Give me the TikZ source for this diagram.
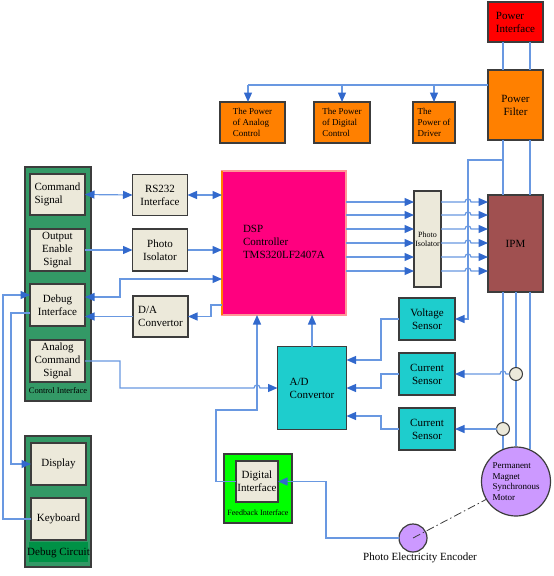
\documentclass[tikz,border=0pt]{standalone}
\usepackage{fontspec}
\setmainfont{Liberation Serif}
\usetikzlibrary{arrows.meta}
\definecolor{ln}{RGB}{105,152,225}
\definecolor{tipc}{RGB}{50,105,205}
\definecolor{bd}{RGB}{60,60,60}
\definecolor{beige}{RGB}{236,233,218}
\definecolor{pgreen}{RGB}{51,153,102}
\definecolor{dgreen}{RGB}{0,145,70}
\definecolor{bgreen}{RGB}{0,255,0}
\definecolor{orng}{RGB}{255,128,0}
\definecolor{rd}{RGB}{255,0,0}
\definecolor{ipmc}{RGB}{160,80,80}
\definecolor{mag}{RGB}{255,0,127}
\definecolor{pinkb}{RGB}{255,150,150}
\definecolor{cyn}{RGB}{30,205,205}
\definecolor{vio}{RGB}{204,153,255}
\newcommand\fmain{\fontsize{11}{13}\selectfont}
\newcommand\fsmall{\fontsize{9}{10.7}\selectfont}
\newcommand\ftiny{\fontsize{8}{9}\selectfont}
\begin{document}
\begin{tikzpicture}[x=1pt,y=-1pt,
  every node/.style={inner sep=0pt,outer sep=0pt},
  blk/.style={draw=bd,line width=1.2pt,align=center,font=\fmain},
  box/.style={blk,fill=beige},
  pbox/.style={blk,fill=orng,font=\fsmall,align=left},
  sbox/.style={blk,fill=cyn},
  panel/.style={draw=bd,line width=1.2pt},
  conn/.style={draw=ln,line width=1.2pt},
  arr/.style={conn,-{Triangle[length=9.5pt,width=8pt,color=tipc]}},
  darr/.style={conn,{Triangle[length=9.5pt,width=8pt,color=tipc]}-{Triangle[length=9.5pt,width=8pt,color=tipc]}},
  lbl/.style={font=\ftiny}
]
\useasboundingbox (0,0) rectangle (554,576);
% panels
\node[panel,fill=pgreen,minimum width=66pt,minimum height=234pt] (ctrl) at (58,284) {};
\node[lbl,font=\fontsize{8.5}{10}\selectfont] (ctrll) at (58,391) {Control Interface};
\node[panel,fill=pgreen,minimum width=66pt,minimum height=131pt] (dbgc) at (58,501.5) {};
\node[fill=dgreen,minimum width=59pt,minimum height=20pt] (dbgs) at (58.5,552) {};
\node[font=\fmain] (dbgl) at (58.5,553) {Debug Circuit};
\node[panel,fill=bgreen,minimum width=68pt,minimum height=69pt] (fb) at (258,488.5) {};
\node[lbl] (fbl) at (258,513) {Feedback Interface};
% power
\node[blk,fill=rd,minimum width=55pt,minimum height=40pt,align=left] (pwrif) at (515.5,22) {Power\\Interface};
\node[blk,fill=orng,minimum width=55pt,minimum height=70pt] (pwrfl) at (515.5,105) {Power\\Filter};
\node[pbox,minimum width=65pt,minimum height=41pt] (pac) at (252.5,122.5) {The Power\\of Analog\\Control};
\node[pbox,minimum width=56pt,minimum height=41pt] (pdc) at (342,122.5) {The Power\\of Digital\\Control};
\node[pbox,minimum width=42pt,minimum height=41pt] (pdr) at (434,122.5) {The\\Power of\\Driver};
% main
\node[blk,fill=ipmc,minimum width=55pt,minimum height=97pt] (ipm) at (515.5,243.5) {IPM};
\node[box,minimum width=27pt,minimum height=96pt,font=\ftiny] (piso) at (427.5,239) {Photo\\Isolator};
\node[draw=pinkb,line width=1.5pt,fill=mag,minimum width=124pt,minimum height=144pt] (dsp) at (284,243) {};
\draw[orng,line width=1.5pt] (dsp.north west) -- (dsp.south west);
\node[font=\fmain,align=left,anchor=west] (dspl) at (243,242) {DSP\\Controller\\TMS320LF2407A};
% control interface
\node[box,minimum width=55pt,minimum height=41pt,align=left] (cmd) at (57.5,194.5) {Command\\Signal};
\node[box,minimum width=55pt,minimum height=42pt] (oes) at (57.5,250) {Output\\Enable\\Signal};
\node[box,minimum width=55pt,minimum height=42pt] (dbg) at (57.5,305) {Debug\\Interface};
\node[box,minimum width=55pt,minimum height=42pt] (acs) at (57.5,361) {Analog\\Command\\Signal};
\node[box,minimum width=55pt,minimum height=41pt] (rs) at (160,195) {RS232\\Interface};
\node[box,minimum width=55pt,minimum height=42pt] (piso2) at (160,250) {Photo\\Isolator};
\node[box,minimum width=55pt,minimum height=41pt,align=left] (da) at (160.5,316.5) {D/A\\Convertor};
% debug circuit
\node[box,minimum width=55pt,minimum height=42pt] (disp) at (58.5,464) {Display};
\node[box,minimum width=55pt,minimum height=42pt] (kb) at (58.5,519) {Keyboard};
% feedback
\node[box,minimum width=42pt,minimum height=41pt] (di) at (257,481.5) {Digital\\Interface};
% sensors
\node[sbox,minimum width=69pt,minimum height=83pt,align=left] (ad) at (312,388) {A/D\\Convertor};
\node[sbox,minimum width=56pt,minimum height=42pt] (vs) at (427,319) {Voltage\\Sensor};
\node[sbox,minimum width=56pt,minimum height=42pt] (cs1) at (427,374) {Current\\Sensor};
\node[sbox,minimum width=56pt,minimum height=42pt] (cs2) at (427,429) {Current\\Sensor};
% motor lines
\draw[conn] (503,292) -- (503,449);
\draw[conn] (516,292) -- (516,446);
\draw[conn] (530,292) -- (530,449);
\node[circle,draw=bd,line width=1.2pt,fill=vio,minimum size=69pt,font=\fsmall,align=left] (pmsm) at (516,481.5) {Permanent\\Magnet\\Synchronous\\Motor};
\node[circle,draw=bd,line width=1pt,fill=beige,minimum size=13pt] (sc1) at (516,374) {};
\node[circle,draw=bd,line width=1pt,fill=beige,minimum size=13pt] (sc2) at (503,429) {};
\node[circle,draw=bd,line width=1.2pt,fill=vio,minimum size=28pt] (enc) at (413,538) {};
\node[font=\fmain] (encl) at (420,557.5) {Photo Electricity Encoder};
\draw[bd,line width=0.8pt,dash pattern=on 8pt off 3pt on 1.5pt off 3pt] (enc.center) -- (pmsm.211);
% power connections
\draw[conn] ([xshift=-12.5pt]pwrif.south) -- ([xshift=-12.5pt]pwrfl.north);
\draw[conn] ([xshift=14.5pt]pwrif.south) -- ([xshift=14.5pt]pwrfl.north);
\draw[conn] ([xshift=-12.5pt]pwrfl.south) -- ([xshift=-12.5pt]ipm.north);
\draw[conn] ([xshift=14.5pt]pwrfl.south) -- ([xshift=14.5pt]ipm.north);
\draw[conn] (pwrfl.west |- 0,85) -- (248,85);
\draw[arr] (248,85) -- (pac.north -| 248,0);
\draw[arr] (342,85) -- (pdc.north);
\draw[arr] (434,85) -- (pdr.north);
\coordinate (tap) at (503,160);
\draw[arr] (tap) -- (468,160) -- (468,319) -- (vs.east);
% DSP to isolator to IPM
\foreach \yy in {202,215,229,243,257,271}{
  \draw[arr] (dsp.east |- 0,\yy) -- (piso.west |- 0,\yy);
  \draw[arr] (piso.east |- 0,\yy) -- (465,\yy) .. controls (465,{\yy-4}) and (471,{\yy-4}) .. (471,\yy) -- (ipm.west |- 0,\yy);
}
% control interface connections
\draw[darr] (cmd.east) -- (rs.west);
\draw[darr] (rs.east) -- (rs.east -| dsp.west);
\draw[arr] (oes.east) -- (piso2.west);
\draw[arr] (piso2.east) -- (piso2.east -| dsp.west);
\draw[darr] ([yshift=8pt]dbg.east) -- (120,297) -- (120,279) -- (dsp.west |- 0,279);
\draw[arr] (dsp.west |- 0,305) -- (211,305) |- (da.east);
\draw[arr] (da.west) -- (da.west -| dbg.east);
\draw[arr] (acs.east) -- (120,361) -- (120,388) -- (254,388) .. controls (254,384) and (260,384) .. (260,388) -- (ad.west);
\draw[arr] (kb.west) -- (3,519) |- ([yshift=10pt]dbg.west);
\draw[arr] ([yshift=-8pt]dbg.west) -- (11,313) |- (disp.west);
% feedback to DSP
\draw[arr] (ad.north) -- (ad.north |- dsp.south);
\draw[arr] (di.west) -- (216,481.5) -- (216,410) -- (257,410) -- (dsp.south -| 257,0);
\draw[arr] (enc.west) -- (326,538) |- (di.east);
% sensors to A/D
\draw[arr] (vs.west) -- (381,319) |- ([yshift=28pt]ad.east);
\draw[arr] (cs1.west) -- (381,374) |- (ad.east);
\draw[arr] (cs2.west) -- (381,429) |- ([yshift=-28pt]ad.east);
\draw[arr] (sc1.west) -- (506,374) .. controls (506,370) and (500,370) .. (500,374) -- (cs1.east);
\draw[arr] (sc2.west) -- (cs2.east);
\end{tikzpicture}
\end{document}
